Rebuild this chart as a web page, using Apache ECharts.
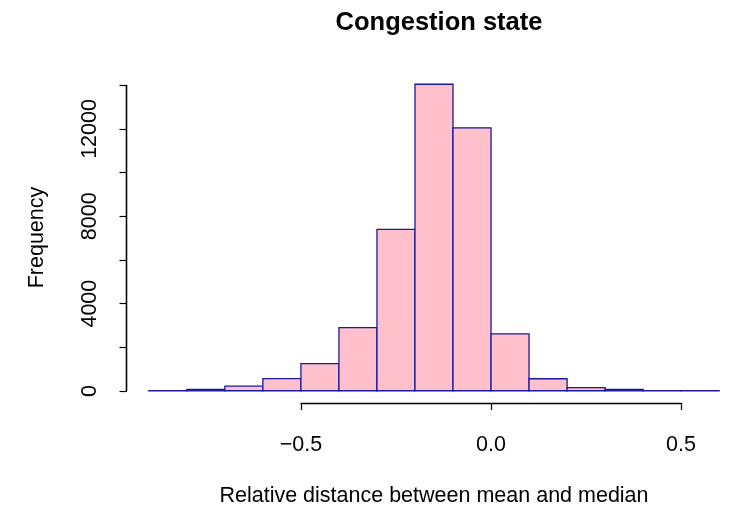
<!DOCTYPE html>
<html>
<head>
<meta charset="utf-8">
<script src="https://cdn.jsdelivr.net/npm/echarts@6/dist/echarts.min.js"></script>
<style>html,body{margin:0;padding:0;background:#fff}#c{width:729px;height:506px}</style>
</head>
<body>
<div id="c"></div>
<script>
const binStart = [-0.9,-0.8,-0.7,-0.6,-0.5,-0.4,-0.3,-0.2,-0.1,0.0,0.1,0.2,0.3,0.4,0.5];
const binWidth = 0.1;
const counts = [5,60,210,560,1240,2900,7400,14060,12060,2610,550,140,60,10,5];
const xTicks = [-0.5,0.0,0.5];
const yTicks = [0,2000,4000,6000,8000,10000,12000,14000];
const yLabelled = [0,4000,8000,12000];

const FONT = 'Liberation Sans, Arial, sans-serif';
const LAB = 21.5;
const data = binStart.map((s,i)=>[s, +(s+binWidth).toFixed(2), counts[i]]);
const yAxisSpan = [[0, yTicks[0]], [0, yTicks[yTicks.length-1]]];

const chart = echarts.init(document.getElementById('c'), null, {renderer:'canvas'});
chart.setOption({
  animation:false,
  title:{text:'Congestion state', left:434, top:5, textAlign:'center',
    textStyle:{fontFamily:FONT, fontWeight:'bold', fontSize:25.5, color:'#000'}},
  grid:[
    {left:126, width:616, top:72, height:331, outerBoundsMode:'none', containLabel:false},
    {left:301, width:380, top:72, height:331, outerBoundsMode:'none', containLabel:false},
    {left:126.5, width:616, top:85.3, height:305.7, outerBoundsMode:'none', containLabel:false}
  ],
  xAxis:[
    {gridIndex:0, type:'value', min:-0.96, max:0.66,
     axisLine:{show:false}, axisTick:{show:false}, axisLabel:{show:false}, splitLine:{show:false},
     name:'Relative distance between mean and median', nameLocation:'middle', nameGap:82,
     nameTextStyle:{fontFamily:FONT, fontSize:LAB, color:'#000'}},
    {gridIndex:1, type:'value', min:xTicks[0], max:xTicks[xTicks.length-1], interval:0.5,
     axisLine:{show:true, onZero:false, lineStyle:{color:'#000', width:1.3}},
     axisTick:{show:true, inside:false, length:7, lineStyle:{color:'#000', width:1.2}},
     axisLabel:{show:true, margin:31, fontFamily:FONT, fontSize:LAB, color:'#000',
       formatter:v=>{ const t=Math.abs(v).toFixed(1); return v<0 ? '\u2212'+t : t; }},
     splitLine:{show:false}},
    {gridIndex:2, type:'value', min:0, max:1,
     axisLine:{show:false}, axisTick:{show:false}, axisLabel:{show:false}, splitLine:{show:false}}
  ],
  yAxis:[
    {gridIndex:0, type:'value', min:-562, max:14622,
     axisLine:{show:false}, axisTick:{show:false}, axisLabel:{show:false}, splitLine:{show:false},
     name:'Frequency', nameLocation:'middle', nameGap:77.5, nameRotate:90,
     nameTextStyle:{fontFamily:FONT, fontSize:LAB, color:'#000'}},
    {gridIndex:1, type:'value', show:false, min:0, max:1},
    {gridIndex:2, type:'value', position:'left', min:yTicks[0], max:yTicks[yTicks.length-1], interval:2000,
     axisLine:{show:true, onZero:false, lineStyle:{color:'#000', width:1.3, opacity:1}},
     axisTick:{show:true, length:7, lineStyle:{color:'#000', width:1.2}},
     axisLabel:{show:true, rotate:90, margin:25.5, fontFamily:FONT, fontSize:LAB, color:'#000',
       formatter:v=> yLabelled.indexOf(v)>=0 ? String(v) : ''},
     splitLine:{show:false}}
  ],
  series:[{
    type:'custom', xAxisIndex:0, yAxisIndex:0,
    data:data,
    renderItem:function(params, api){
      const p0 = api.coord([api.value(0), api.value(2)]);
      const p1 = api.coord([api.value(1), 0]);
      return {type:'rect', shape:{x:p0[0], y:p0[1], width:p1[0]-p0[0], height:p1[1]-p0[1]},
        style:{fill:'#FFC0CB', stroke:'#1a1a9a', lineWidth:1.3}};
    }
  },{
    type:'line', xAxisIndex:2, yAxisIndex:2, data:yAxisSpan,
    symbol:'none', silent:true, clip:false,
    lineStyle:{color:'#000', width:1.3}
  }]
});
</script>
</body>
</html>
